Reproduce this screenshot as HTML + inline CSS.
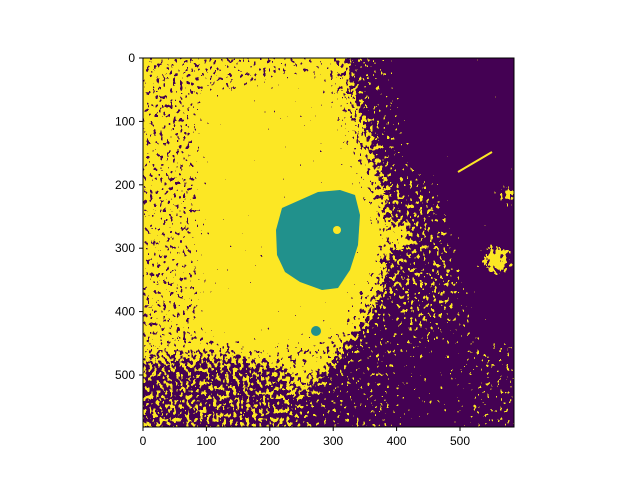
<!DOCTYPE html>
<html><head><meta charset="utf-8"><style>
body{margin:0;background:#fff;}
svg text{font-family:"Liberation Sans","DejaVu Sans",sans-serif;font-size:12px;fill:#000;}
</style></head><body>
<svg id="chart" width="640" height="480" viewBox="0 0 640 480">
<defs>
<clipPath id="imgclip"><rect x="143" y="58" width="371" height="369"/></clipPath>
<filter id="seg" x="100" y="20" width="460" height="450" filterUnits="userSpaceOnUse" color-interpolation-filters="sRGB">
 <feGaussianBlur in="SourceGraphic" stdDeviation="7" result="d"/>
 <feTurbulence type="fractalNoise" baseFrequency="0.3 0.22" numOctaves="2" seed="5" result="n0"/>
 <feColorMatrix in="n0" type="matrix" values="1 0 0 0 0  1 0 0 0 0  1 0 0 0 0  0 0 0 0 1" result="n"/>
 <feComposite in="d" in2="n" operator="arithmetic" k1="0" k2="1" k3="1.3" k4="-0.65" result="s"/>
 <feComponentTransfer in="s">
  <feFuncR type="discrete" tableValues="0.267 0.992"/>
  <feFuncG type="discrete" tableValues="0.004 0.906"/>
  <feFuncB type="discrete" tableValues="0.329 0.145"/>
  <feFuncA type="discrete" tableValues="1 1"/>
 </feComponentTransfer>
</filter>
</defs>
<g clip-path="url(#imgclip)">
 <g filter="url(#seg)">
  <rect x="100" y="20" width="460" height="450" fill="#b0b0b0"/>
  <polygon points="200,100 320,70 345,140 360,200 345,330 260,350 200,330" fill="#eaeaea"/>
  <polygon points="100,360 230,355 290,370 320,470 100,470" fill="#6a6a6a"/>
  <polygon points="338,20 560,20 560,470 320,470 300,400 340,355 368,320 385,285 390,240 385,190 372,140 355,95" fill="#404040"/>
  <polygon points="405,20 560,20 560,340 480,340 460,250 425,150" fill="#000"/>
  <polygon points="380,20 560,20 560,150 410,150" fill="#000"/>
  <polygon points="400,360 470,330 470,470 380,470" fill="#2a2a2a"/>
  <polygon points="385,180 440,200 455,300 420,330 385,300" fill="#5a5a5a"/>
  <ellipse cx="320" cy="245" rx="56" ry="56" fill="#fff"/>
  <ellipse cx="398" cy="236" rx="10" ry="11" fill="#fff"/>
  <ellipse cx="496" cy="260" rx="13" ry="13" fill="#fff"/>
  <ellipse cx="510" cy="195" rx="8" ry="9" fill="#fff"/>
 </g>
 <path d="M458,172 L492,152" stroke="#fde725" stroke-width="2"/>
 <path fill="#21918c"
  d="M282,208 L300,200 L318,192 L340,190 L355,195 L360,215 L358,245 L350,270 L338,288 L322,290 L300,282 L285,272 L277,255 L276,230 Z"/>
 <circle cx="316" cy="331" r="5" fill="#21918c"/>
 <circle cx="337" cy="230" r="4" fill="#fde725"/>
</g>
<rect x="143" y="58" width="371" height="369" fill="none" stroke="#000" stroke-width="1"/>
<g id="axes"></g>
</svg>
<script>
const xTicks=[0,100,200,300,400,500];
const yTicks=[0,100,200,300,400,500];
const x0=143,y0=58,scale=317/500;
const g=document.getElementById('axes');
const ns='http://www.w3.org/2000/svg';
function xs(v){return x0+v*scale;}
function ys(v){return y0+v*scale;}
xTicks.forEach(v=>{
 const l=document.createElementNS(ns,'line');
 l.setAttribute('x1',xs(v));l.setAttribute('x2',xs(v));l.setAttribute('y1',427);l.setAttribute('y2',431);l.setAttribute('stroke','#000');
 
 
 g.appendChild(l);
 const t=document.createElementNS(ns,'text');
 t.setAttribute('x',xs(v));t.setAttribute('y',445);t.setAttribute('text-anchor','middle');t.textContent=v;
 
 
 g.appendChild(t);
});
yTicks.forEach(v=>{
 const l=document.createElementNS(ns,'line');
 l.setAttribute('x1',139);l.setAttribute('x2',143);l.setAttribute('y1',ys(v));l.setAttribute('y2',ys(v));l.setAttribute('stroke','#000');
 
 
 g.appendChild(l);
 const t=document.createElementNS(ns,'text');
 t.setAttribute('x',135);t.setAttribute('y',ys(v)+4);t.setAttribute('text-anchor','end');t.textContent=v;
 
 
 g.appendChild(t);
});
</script>
</body></html>
